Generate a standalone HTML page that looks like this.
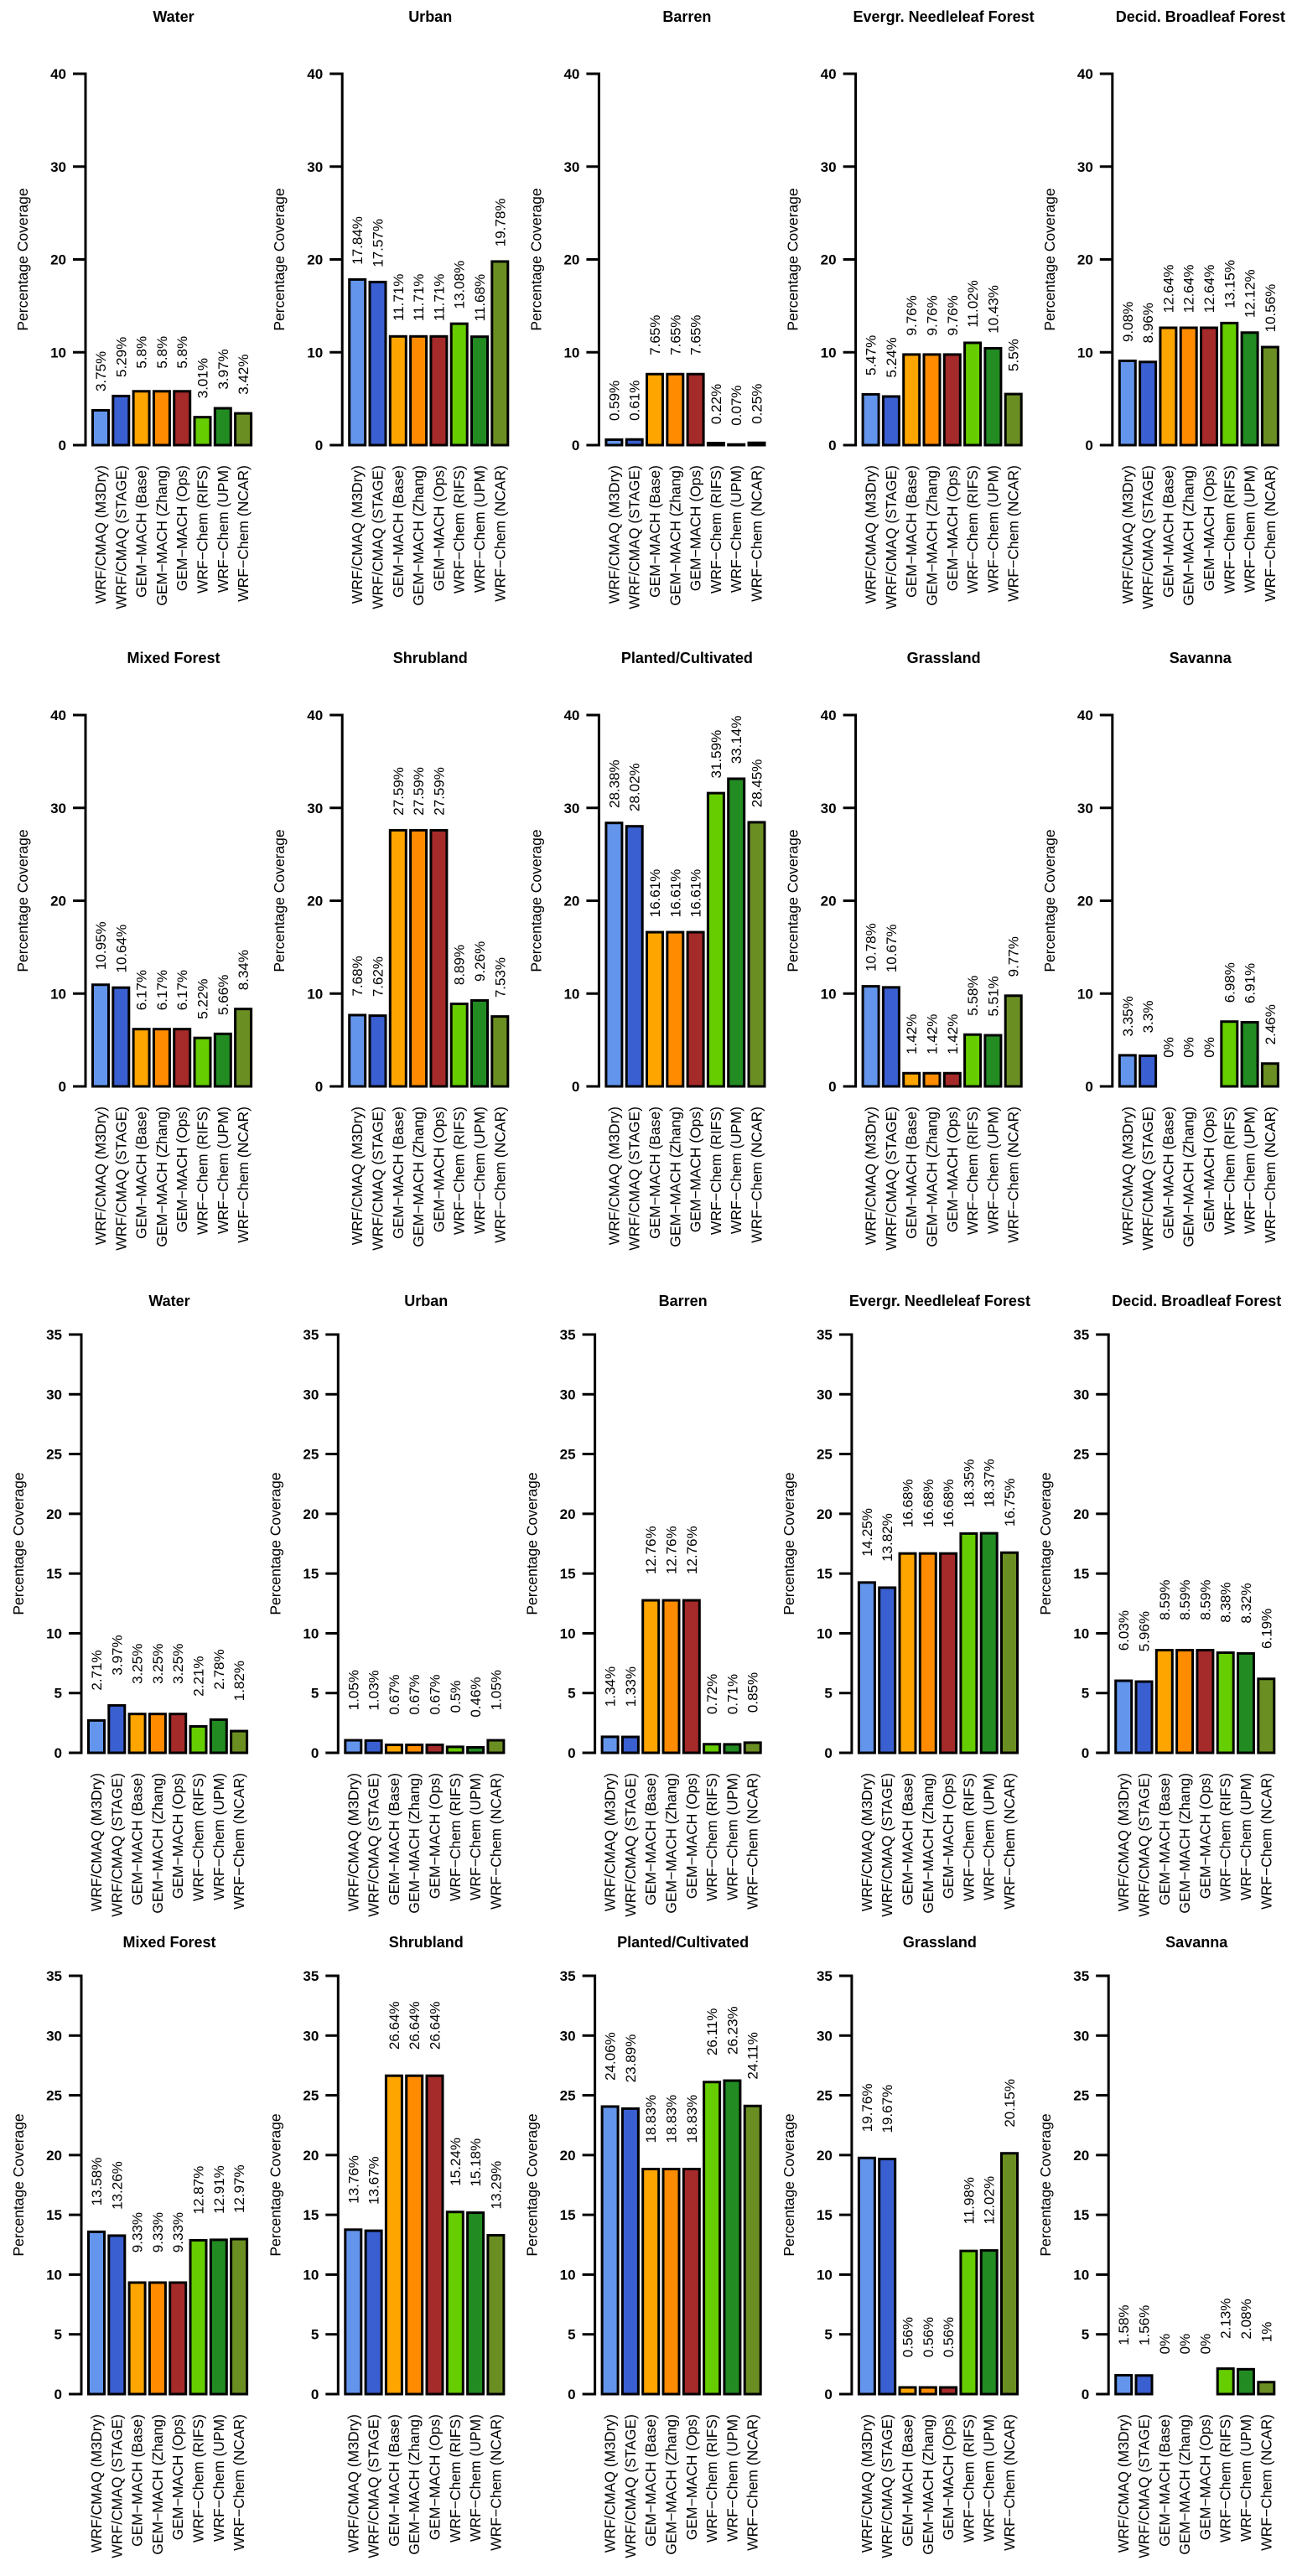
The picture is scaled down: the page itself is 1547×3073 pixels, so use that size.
<!DOCTYPE html>
<html><head><meta charset="utf-8">
<style>
html,body{margin:0;padding:0;background:#fff;}
svg{display:block;font-family:"Liberation Sans",Arial,sans-serif;}
</style></head>
<body>
<svg id="chart" width="1547" height="3073" viewBox="0 0 1547 3073" xmlns="http://www.w3.org/2000/svg"></svg>
<script>
const models = ["WRF/CMAQ (M3Dry)","WRF/CMAQ (STAGE)","GEM\u2212MACH (Base)","GEM\u2212MACH (Zhang)","GEM\u2212MACH (Ops)","WRF\u2212Chem (RIFS)","WRF\u2212Chem (UPM)","WRF\u2212Chem (NCAR)"];
const colors = ["#6495ED","#3A5FD0","#FFA500","#FF8C00","#A52A2A","#66CD00","#228B22","#6B8E23"];
const titles = ["Water","Urban","Barren","Evergr. Needleleaf Forest","Decid. Broadleaf Forest","Mixed Forest","Shrubland","Planted/Cultivated","Grassland","Savanna"];
const ticksTop = [0,10,20,30,40];
const ticksBottom = [0,5,10,15,20,25,30,35];
// Upper set (y max 40)
const water1 = [3.75,5.29,5.8,5.8,5.8,3.01,3.97,3.42];
const urban1 = [17.84,17.57,11.71,11.71,11.71,13.08,11.68,19.78];
const barren1 = [0.59,0.61,7.65,7.65,7.65,0.22,0.07,0.25];
const enf1 = [5.47,5.24,9.76,9.76,9.76,11.02,10.43,5.5];
const dbf1 = [9.08,8.96,12.64,12.64,12.64,13.15,12.12,10.56];
const mixed1 = [10.95,10.64,6.17,6.17,6.17,5.22,5.66,8.34];
const shrub1 = [7.68,7.62,27.59,27.59,27.59,8.89,9.26,7.53];
const planted1 = [28.38,28.02,16.61,16.61,16.61,31.59,33.14,28.45];
const grass1 = [10.78,10.67,1.42,1.42,1.42,5.58,5.51,9.77];
const savanna1 = [3.35,3.3,0,0,0,6.98,6.91,2.46];
// Lower set (y max 35)
const water2 = [2.71,3.97,3.25,3.25,3.25,2.21,2.78,1.82];
const urban2 = [1.05,1.03,0.67,0.67,0.67,0.5,0.46,1.05];
const barren2 = [1.34,1.33,12.76,12.76,12.76,0.72,0.71,0.85];
const enf2 = [14.25,13.82,16.68,16.68,16.68,18.35,18.37,16.75];
const dbf2 = [6.03,5.96,8.59,8.59,8.59,8.38,8.32,6.19];
const mixed2 = [13.58,13.26,9.33,9.33,9.33,12.87,12.91,12.97];
const shrub2 = [13.76,13.67,26.64,26.64,26.64,15.24,15.18,13.29];
const planted2 = [24.06,23.89,18.83,18.83,18.83,26.11,26.23,24.11];
const grass2 = [19.76,19.67,0.56,0.56,0.56,11.98,12.02,20.15];
const savanna2 = [1.58,1.56,0,0,0,2.13,2.08,1];

const upperSeries = [water1,urban1,barren1,enf1,dbf1,mixed1,shrub1,planted1,grass1,savanna1];
const lowerSeries = [water2,urban2,barren2,enf2,dbf2,mixed2,shrub2,planted2,grass2,savanna2];

const NS = "http://www.w3.org/2000/svg";
const svg = document.getElementById("chart");
function mk(tag, attrs, parent){
  const e = document.createElementNS(NS, tag);
  for (const k in attrs) e.setAttribute(k, attrs[k]);
  (parent||svg).appendChild(e);
  return e;
}
function fmt(v){ return String(v) + "%"; }

function panel(values, title, ticks, ymax, axisX, base, top, titleY, key){
  const g = mk("g", {});
  
  
  const scale = (base - top) / ymax;
  const yOf = v => base - v * scale;
  const xOf = i => axisX + 7 + i * 24.3;
  const t = mk("text", {x: axisX + 105, y: titleY + 6, "text-anchor": "middle", "font-size": "18", "font-weight": "bold"}, g);
  t.textContent = title;
  
  
  const yl = mk("text", {x: 0, y: 0, "text-anchor": "middle", "font-size": "17.5", transform: "translate(" + (axisX - 69) + "," + yOf(ymax / 2) + ") rotate(-90)"}, g);
  yl.textContent = "Percentage Coverage";
  
  
  const ax = mk("line", {x1: axisX, x2: axisX, y1: yOf(ymax) - 1.5, y2: base + 1.5, stroke: "#000", "stroke-width": 3}, g);
  
  
  ticks.forEach(tv => {
    const tk = mk("line", {x1: axisX - 15, x2: axisX, y1: yOf(tv), y2: yOf(tv), stroke: "#000", "stroke-width": 3}, g);
    
    
    const tl = mk("text", {x: axisX - 23, y: yOf(tv) + 6, "text-anchor": "end", "font-size": "17", "font-weight": "bold"}, g);
    tl.textContent = tv;
    
    
  });
  values.forEach((v, i) => {
    const x = xOf(i);
    const h = v * scale;
    const r = mk("rect", {x: x + 1.5, y: base - h, width: 19, height: h, fill: colors[i], stroke: "#000", "stroke-width": 3}, g);
    
    
    const cx = x + 11;
    const cy = yOf(v + 4.2);
    const vl = mk("text", {x: 0, y: 0, "text-anchor": "middle", "font-size": "17", transform: "translate(" + (cx + 6) + "," + cy + ") rotate(-90)"}, g);
    vl.textContent = fmt(v);
    
    
    const cl = mk("text", {x: 0, y: 0, "text-anchor": "end", "font-size": "17.5", transform: "translate(" + (cx + 6) + "," + (base + 24) + ") rotate(-90)"}, g);
    cl.textContent = models[i];
    
    
  });
}

const rows = [
  {set: upperSeries, ticks: ticksTop, ymax: 40, ax0: 102, step: 306.2, top: 88, base: 531, titleY: 20, start: 0, tag: 'a'},
  {set: upperSeries, ticks: ticksTop, ymax: 40, ax0: 102, step: 306.2, top: 853, base: 1296, titleY: 785, start: 5, tag: 'a'},
  {set: lowerSeries, ticks: ticksBottom, ymax: 35, ax0: 97, step: 306.3, top: 1592, base: 2091, titleY: 1552, start: 0, tag: 'b'},
  {set: lowerSeries, ticks: ticksBottom, ymax: 35, ax0: 97, step: 306.3, top: 2357, base: 2856, titleY: 2317, start: 5, tag: 'b'}
];
rows.forEach(r => {
  for (let c = 0; c < 5; c++) {
    const idx = r.start + c;
    panel(r.set[idx], titles[idx], r.ticks, r.ymax, r.ax0 + c * r.step, r.base, r.top, r.titleY, r.tag + idx);
  }
});
</script>
</body></html>
